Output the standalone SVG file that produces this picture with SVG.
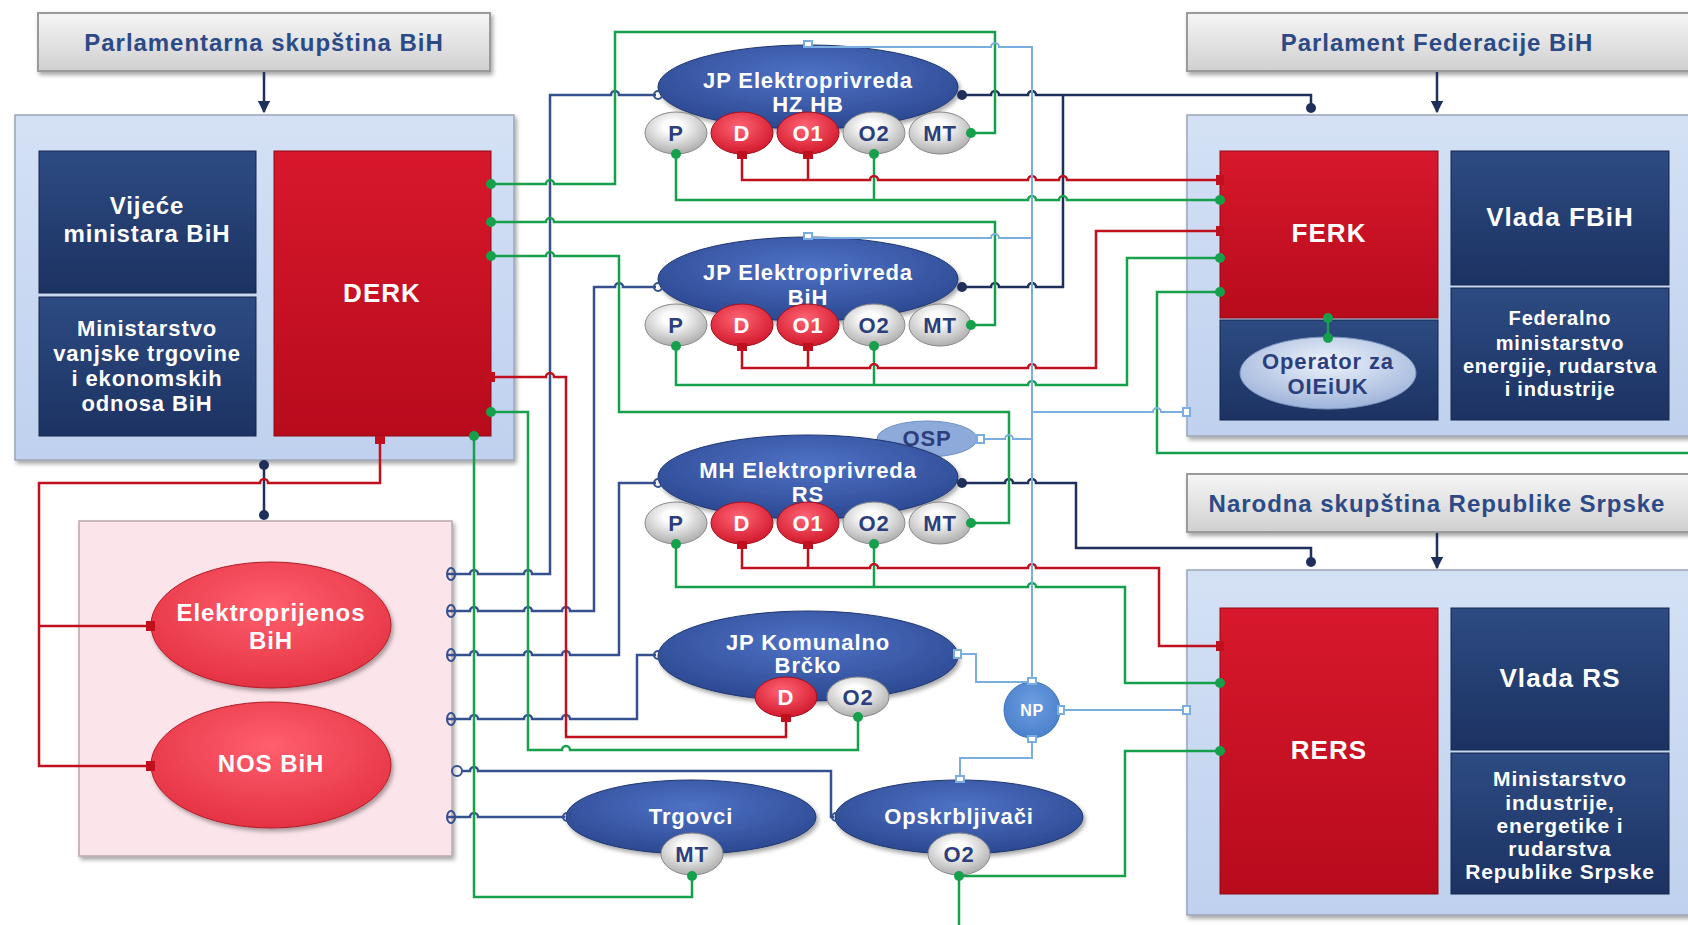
<svg xmlns="http://www.w3.org/2000/svg" width="1688" height="925" viewBox="0 0 1688 925">
<defs>
<linearGradient id="gParl" x1="0" y1="0" x2="0" y2="1"><stop offset="0" stop-color="#f6f6f6"/><stop offset="1" stop-color="#d0d0d0"/></linearGradient>
<linearGradient id="gNavy" x1="0" y1="0" x2="0" y2="1"><stop offset="0" stop-color="#2d4b82"/><stop offset="1" stop-color="#1c3262"/></linearGradient>
<linearGradient id="gRed" x1="0" y1="0" x2="0" y2="1"><stop offset="0" stop-color="#d8182c"/><stop offset="1" stop-color="#b70b1c"/></linearGradient>
<linearGradient id="gOuter" x1="0" y1="0" x2="0" y2="1"><stop offset="0" stop-color="#d4e1f5"/><stop offset="1" stop-color="#bfd1ee"/></linearGradient>
<radialGradient id="gComp" cx="0.5" cy="0.35" r="0.7"><stop offset="0" stop-color="#4f72c6"/><stop offset="1" stop-color="#29458d"/></radialGradient>
<radialGradient id="gWhite" cx="0.45" cy="0.35" r="0.7"><stop offset="0.2" stop-color="#ffffff"/><stop offset="1" stop-color="#a6a6a6"/></radialGradient>
<radialGradient id="gRedSub" cx="0.45" cy="0.35" r="0.7"><stop offset="0" stop-color="#ff6474"/><stop offset="1" stop-color="#cf1428"/></radialGradient>
<radialGradient id="gPinkEll" cx="0.5" cy="0.35" r="0.7"><stop offset="0" stop-color="#ff5f6e"/><stop offset="1" stop-color="#e22f3f"/></radialGradient>
<radialGradient id="gOper" cx="0.5" cy="0.35" r="0.7"><stop offset="0" stop-color="#eef3fb"/><stop offset="1" stop-color="#98afd8"/></radialGradient>
<radialGradient id="gNP" cx="0.5" cy="0.4" r="0.6"><stop offset="0" stop-color="#6c9ee0"/><stop offset="1" stop-color="#4a80cc"/></radialGradient>
<filter id="sh" x="-10%" y="-10%" width="120%" height="130%"><feDropShadow dx="2" dy="3" stdDeviation="2" flood-color="#000" flood-opacity="0.35"/></filter>
<marker id="arr" viewBox="0 0 10 10" refX="9" refY="5" markerWidth="5" markerHeight="5" orient="auto"><path d="M0,0 L10,5 L0,10 z" fill="#1e2f5c"/></marker>
</defs>
<style>
text{font-family:"Liberation Sans",Arial,sans-serif;font-weight:bold;text-anchor:middle;dominant-baseline:central;letter-spacing:0.04em}
.parl{fill:url(#gParl);stroke:#9a9a9a;stroke-width:2}
.pt{fill:#2c4a86;font-size:24px}
.outer{fill:url(#gOuter);stroke:#9aa6b8;stroke-width:1.5}
.navy{fill:url(#gNavy);stroke:#15264d;stroke-width:1}
.red{fill:url(#gRed);stroke:#8e0a16;stroke-width:1}
.wt{fill:#ffffff}
.comp{fill:url(#gComp);stroke:#1f3670;stroke-width:1}
.sw{fill:url(#gWhite);stroke:#8a8a8a;stroke-width:1}
.sr{fill:url(#gRedSub);stroke:#a01020;stroke-width:1}
.st{font-size:22px;fill:#2c3f7c}
.srt{font-size:22px;fill:#ffffff}
.ln{fill:none;stroke-width:2.5;stroke-linejoin:miter}
.g{stroke:#17a04c}
.r{stroke:#c0101e}
.n{stroke:#1e2f5c}
.b{stroke:#34508f}
.lb{stroke:#7aaee0;stroke-width:2}
.gd{fill:#17a04c}
.rd{fill:#c0101e}
.nd{fill:#1e2f5c}
.oc{fill:none;stroke:#34508f;stroke-width:2}
.lsq{fill:#ffffff;stroke:#7aaee0;stroke-width:2}
</style>

<!-- Nodes -->
<g id="parl-bih"><rect class="parl" x="38" y="13" width="452" height="58" filter="url(#sh)"/><text class="pt" x="264" y="42">Parlamentarna skupština BiH</text></g>
<g id="bih-state"><rect class="outer" x="15" y="115" width="499" height="345" filter="url(#sh)"/></g>
<g id="vijece"><rect class="navy" x="39" y="151" width="217" height="142"/><text class="wt" font-size="24" x="147" y="205">Vijeće</text><text class="wt" font-size="24" x="147" y="233">ministara BiH</text></g>
<g id="mvteo"><rect class="navy" x="39" y="297" width="217" height="139"/><text class="wt" font-size="22" x="147" y="328">Ministarstvo</text><text class="wt" font-size="22" x="147" y="353">vanjske trgovine</text><text class="wt" font-size="22" x="147" y="378">i ekonomskih</text><text class="wt" font-size="22" x="147" y="403">odnosa BiH</text></g>
<g id="derk"><rect class="red" x="274" y="151" width="217" height="285"/><text class="wt" font-size="26" x="382" y="293">DERK</text></g>

<g id="transmission"><rect x="79" y="521" width="373" height="335" fill="#fce5ea" stroke="#b8a8ac" stroke-width="1.5" filter="url(#sh)"/></g>
<g id="elektroprijenos"><ellipse cx="271" cy="625" rx="120" ry="63" fill="url(#gPinkEll)" stroke="#b01c2a" filter="url(#sh)"/><text class="wt" font-size="24" x="271" y="612">Elektroprijenos</text><text class="wt" font-size="24" x="271" y="640">BiH</text></g>
<g id="nos"><ellipse cx="271" cy="765" rx="120" ry="63" fill="url(#gPinkEll)" stroke="#b01c2a" filter="url(#sh)"/><text class="wt" font-size="24" x="271" y="763">NOS BiH</text></g>

<g id="ep-hzhb"><ellipse class="comp" cx="808" cy="87" rx="150" ry="42" filter="url(#sh)"/><text class="wt" font-size="22" x="808" y="80">JP Elektroprivreda</text><text class="wt" font-size="22" x="808" y="104">HZ HB</text>
<ellipse class="sw" cx="676" cy="133" rx="31" ry="21"/><text class="st" x="676" y="133">P</text>
<ellipse class="sr" cx="742" cy="133" rx="31" ry="21"/><text class="srt" x="742" y="133">D</text>
<ellipse class="sr" cx="808" cy="133" rx="31" ry="21"/><text class="srt" x="808" y="133">O1</text>
<ellipse class="sw" cx="874" cy="133" rx="31" ry="21"/><text class="st" x="874" y="133">O2</text>
<ellipse class="sw" cx="940" cy="133" rx="31" ry="21"/><text class="st" x="940" y="133">MT</text></g>

<g id="ep-bih"><ellipse class="comp" cx="808" cy="279" rx="150" ry="42" filter="url(#sh)"/><text class="wt" font-size="22" x="808" y="272">JP Elektroprivreda</text><text class="wt" font-size="22" x="808" y="297">BiH</text>
<ellipse class="sw" cx="676" cy="325" rx="31" ry="21"/><text class="st" x="676" y="325">P</text>
<ellipse class="sr" cx="742" cy="325" rx="31" ry="21"/><text class="srt" x="742" y="325">D</text>
<ellipse class="sr" cx="808" cy="325" rx="31" ry="21"/><text class="srt" x="808" y="325">O1</text>
<ellipse class="sw" cx="874" cy="325" rx="31" ry="21"/><text class="st" x="874" y="325">O2</text>
<ellipse class="sw" cx="940" cy="325" rx="31" ry="21"/><text class="st" x="940" y="325">MT</text></g>

<g id="osp"><ellipse cx="927" cy="439" rx="50" ry="18" fill="#8eaadb" stroke="#7090c4"/><text class="st" x="927" y="438">OSP</text></g>

<g id="ep-rs"><ellipse class="comp" cx="808" cy="477" rx="150" ry="42" filter="url(#sh)"/><text class="wt" font-size="22" x="808" y="470">MH Elektroprivreda</text><text class="wt" font-size="22" x="808" y="494">RS</text>
<ellipse class="sw" cx="676" cy="523" rx="31" ry="21"/><text class="st" x="676" y="523">P</text>
<ellipse class="sr" cx="742" cy="523" rx="31" ry="21"/><text class="srt" x="742" y="523">D</text>
<ellipse class="sr" cx="808" cy="523" rx="31" ry="21"/><text class="srt" x="808" y="523">O1</text>
<ellipse class="sw" cx="874" cy="523" rx="31" ry="21"/><text class="st" x="874" y="523">O2</text>
<ellipse class="sw" cx="940" cy="523" rx="31" ry="21"/><text class="st" x="940" y="523">MT</text></g>

<g id="brcko"><ellipse class="comp" cx="808" cy="656" rx="150" ry="45" filter="url(#sh)"/>
<ellipse class="sr" cx="786" cy="697" rx="31" ry="20"/><text class="srt" x="786" y="697">D</text>
<ellipse class="sw" cx="858" cy="697" rx="31" ry="20"/><text class="st" x="858" y="697">O2</text>
<text class="wt" font-size="22" x="808" y="642">JP Komunalno</text><text class="wt" font-size="22" x="808" y="665">Brčko</text></g>

<g id="np"><circle cx="1032" cy="710" r="28" fill="url(#gNP)" stroke="#3e70b8"/><text class="wt" font-size="16" x="1032" y="710">NP</text></g>

<g id="trgovci"><ellipse class="comp" cx="691" cy="817" rx="125" ry="37" filter="url(#sh)"/><text class="wt" font-size="22" x="691" y="816">Trgovci</text>
<ellipse class="sw" cx="692" cy="854" rx="31" ry="21"/><text class="st" x="692" y="854">MT</text></g>
<g id="opskrbljivaci"><ellipse class="comp" cx="959" cy="817" rx="124" ry="37" filter="url(#sh)"/><text class="wt" font-size="22" x="959" y="816">Opskrbljivači</text>
<ellipse class="sw" cx="959" cy="854" rx="31" ry="21"/><text class="st" x="959" y="854">O2</text></g>

<g id="parl-fbih"><rect class="parl" x="1187" y="13" width="520" height="58" filter="url(#sh)"/><text class="pt" x="1437" y="42">Parlament Federacije BiH</text></g>
<g id="fbih"><rect class="outer" x="1187" y="115" width="520" height="321" filter="url(#sh)"/></g>
<g id="ferk"><rect class="red" x="1220" y="151" width="218" height="167"/><text class="wt" font-size="26" x="1329" y="233">FERK</text></g>
<g id="operator"><rect class="navy" x="1220" y="320" width="218" height="100"/><ellipse cx="1328" cy="373" rx="88" ry="36" fill="url(#gOper)" stroke="#7d93bd"/><text class="st" x="1328" y="361">Operator za</text><text class="st" x="1328" y="386">OIEiUK</text></g>
<g id="vlada-fbih"><rect class="navy" x="1451" y="151" width="218" height="134"/><text class="wt" font-size="26" x="1560" y="217">Vlada FBiH</text></g>
<g id="fmerai"><rect class="navy" x="1451" y="288" width="218" height="132"/><text class="wt" font-size="20" x="1560" y="318">Federalno</text><text class="wt" font-size="20" x="1560" y="343">ministarstvo</text><text class="wt" font-size="20" x="1560" y="366">energije, rudarstva</text><text class="wt" font-size="20" x="1560" y="389">i industrije</text></g>

<g id="parl-rs"><rect class="parl" x="1187" y="474" width="520" height="58" filter="url(#sh)"/><text class="pt" x="1437" y="503">Narodna skupština Republike Srpske</text></g>
<g id="rs"><rect class="outer" x="1187" y="570" width="520" height="345" filter="url(#sh)"/></g>
<g id="rers"><rect class="red" x="1220" y="608" width="218" height="286"/><text class="wt" font-size="26" x="1329" y="750">RERS</text></g>
<g id="vlada-rs"><rect class="navy" x="1451" y="608" width="218" height="142"/><text class="wt" font-size="26" x="1560" y="678">Vlada RS</text></g>
<g id="mier-rs"><rect class="navy" x="1451" y="753" width="218" height="141"/><text class="wt" font-size="21" x="1560" y="778">Ministarstvo</text><text class="wt" font-size="21" x="1560" y="802">industrije,</text><text class="wt" font-size="21" x="1560" y="825">energetike i</text><text class="wt" font-size="21" x="1560" y="848">rudarstva</text><text class="wt" font-size="21" x="1560" y="871">Republike Srpske</text></g>

<!-- Connectors -->
<g id="connectors">
<line class="ln n" x1="264" y1="72" x2="264" y2="112" marker-end="url(#arr)"/>
<line class="ln n" x1="1437" y1="72" x2="1437" y2="112" marker-end="url(#arr)"/>
<line class="ln n" x1="1437" y1="533" x2="1437" y2="568" marker-end="url(#arr)"/>

<path class="ln n" d="M962,95 L991,95 A4,4 0 0 1 999,95 L1028,95 A4,4 0 0 1 1036,95 L1311,95 L1311,108"/>
<path class="ln n" d="M962,287 L991,287 A4,4 0 0 1 999,287 L1028,287 A4,4 0 0 1 1036,287 L1063,287 L1063,95"/>
<path class="ln n" d="M962,483 L1005,483 A4,4 0 0 1 1013,483 L1028,483 A4,4 0 0 1 1036,483 L1076,483 L1076,548 L1311,548 L1311,562"/>
<polyline class="ln n" points="264,465 264,515"/>

<path class="ln b" d="M447,574 L470,574 A4,4 0 0 1 478,574 L524,574 A4,4 0 0 1 532,574 L550,574 L550,95 L611,95 A4,4 0 0 1 619,95 L656,95"/>
<path class="ln b" d="M447,611 L470,611 A4,4 0 0 1 478,611 L524,611 A4,4 0 0 1 532,611 L562,611 A4,4 0 0 1 570,611 L594,611 L594,287 L615,287 A4,4 0 0 1 623,287 L656,287"/>
<path class="ln b" d="M447,655 L470,655 A4,4 0 0 1 478,655 L524,655 A4,4 0 0 1 532,655 L562,655 A4,4 0 0 1 570,655 L619,655 L619,483 L656,483"/>
<path class="ln b" d="M447,719 L470,719 A4,4 0 0 1 478,719 L524,719 A4,4 0 0 1 532,719 L562,719 A4,4 0 0 1 570,719 L637,719 L637,655 L656,655"/>
<path class="ln b" d="M462,771 L470,771 A4,4 0 0 1 478,771 L831,771 L831,817 L834,817"/>
<path class="ln b" d="M447,817 L470,817 A4,4 0 0 1 478,817 L565,817"/>

<path class="ln g" d="M491,184 L546,184 A4,4 0 0 1 554,184 L615,184 L615,32 L995,32 L995,133 L971,133"/>
<path class="ln g" d="M491,222 L546,222 A4,4 0 0 1 554,222 L995,222 L995,325 L971,325"/>
<path class="ln g" d="M491,256 L546,256 A4,4 0 0 1 554,256 L619,256 L619,412 L1009,412 L1009,523 L971,523"/>
<path class="ln g" d="M491,412 L528,412 L528,750 L562,750 A4,4 0 0 1 570,750 L858,750 L858,717"/>
<polyline class="ln g" points="474,436 474,897 692,897 692,876"/>
<path class="ln g" d="M676,154 L676,200 L1028,200 A4,4 0 0 1 1036,200 L1059,200 A4,4 0 0 1 1067,200 L1220,200"/>
<line class="ln g" x1="874" y1="154" x2="874" y2="200"/>
<path class="ln g" d="M676,346 L676,385 L1028,385 A4,4 0 0 1 1036,385 L1127,385 L1127,258 L1220,258"/>
<line class="ln g" x1="874" y1="346" x2="874" y2="385"/>
<path class="ln g" d="M676,544 L676,587 L1028,587 A4,4 0 0 1 1036,587 L1125,587 L1125,683 L1220,683"/>
<line class="ln g" x1="874" y1="544" x2="874" y2="587"/>
<polyline class="ln g" points="1220,292 1157,292 1157,453 1688,453"/>
<polyline class="ln g" points="959,876 1125,876 1125,751 1220,751"/>
<line class="ln g" x1="959" y1="876" x2="959" y2="925"/>
<line class="ln g" x1="1328" y1="318" x2="1328" y2="338"/>

<path class="ln r" d="M380,438 L380,483 L268,483 A4,4 0 0 0 260,483 L39,483 L39,766 L152,766"/>
<line class="ln r" x1="39" y1="626" x2="152" y2="626"/>
<path class="ln r" d="M491,377 L546,377 A4,4 0 0 1 554,377 L566,377 L566,737 L786,737 L786,717"/>
<path class="ln r" d="M742,156 L742,180 L870,180 A4,4 0 0 1 878,180 L1028,180 A4,4 0 0 1 1036,180 L1059,180 A4,4 0 0 1 1067,180 L1220,180"/>
<line class="ln r" x1="808" y1="156" x2="808" y2="180"/>
<path class="ln r" d="M742,348 L742,368 L870,368 A4,4 0 0 1 878,368 L1028,368 A4,4 0 0 1 1036,368 L1096,368 L1096,231 L1220,231"/>
<line class="ln r" x1="808" y1="348" x2="808" y2="368"/>
<path class="ln r" d="M742,546 L742,568 L870,568 A4,4 0 0 1 878,568 L1028,568 A4,4 0 0 1 1036,568 L1159,568 L1159,646 L1220,646"/>
<line class="ln r" x1="808" y1="546" x2="808" y2="568"/>

<path class="ln lb" d="M808,45 L808,47 L991,47 A4,4 0 0 1 999,47 L1032,47 L1032,682"/>
<path class="ln lb" d="M808,237 L808,238 L991,238 A4,4 0 0 1 999,238 L1032,238"/>
<path class="ln lb" d="M1032,412 L1153,412 A4,4 0 0 1 1161,412 L1187,412"/>
<path class="ln lb" d="M981,439 L1005,439 A4,4 0 0 1 1013,439 L1032,439"/>
<polyline class="ln lb" points="958,654 976,654 976,682 1032,682"/>
<line class="ln lb" x1="1062" y1="710" x2="1187" y2="710"/>
<polyline class="ln lb" points="1032,740 1032,758 960,758 960,780"/>

<!-- endpoint markers -->
<g id="dots">
<circle class="gd" cx="491" cy="184" r="5"/><circle class="gd" cx="491" cy="222" r="5"/><circle class="gd" cx="491" cy="256" r="5"/><circle class="gd" cx="491" cy="412" r="5"/><circle class="gd" cx="474" cy="436" r="5"/>
<rect class="rd" x="486" y="372" width="9" height="10"/><rect class="rd" x="375" y="436" width="10" height="8"/>
<rect class="rd" x="146" y="621" width="9" height="10"/><rect class="rd" x="146" y="761" width="9" height="10"/>
<circle class="nd" cx="264" cy="465" r="5"/><circle class="nd" cx="264" cy="515" r="5"/>
<ellipse class="oc" cx="451" cy="574" rx="4" ry="6"/><ellipse class="oc" cx="451" cy="611" rx="4" ry="6"/><ellipse class="oc" cx="451" cy="655" rx="4" ry="6"/><ellipse class="oc" cx="451" cy="719" rx="4" ry="6"/><circle class="oc" cx="457" cy="771" r="5"/><ellipse class="oc" cx="451" cy="817" rx="4" ry="6"/>
<circle class="oc" cx="658" cy="95" r="4"/><circle class="oc" cx="658" cy="287" r="4"/><circle class="oc" cx="658" cy="483" r="4"/><circle class="oc" cx="658" cy="655" r="4"/><circle class="oc" cx="567" cy="817" r="4"/><circle class="oc" cx="836" cy="817" r="4"/>
<circle class="nd" cx="962" cy="95" r="5"/><circle class="nd" cx="962" cy="287" r="5"/><circle class="nd" cx="962" cy="483" r="5"/>
<circle class="nd" cx="1311" cy="108" r="5"/><circle class="nd" cx="1311" cy="562" r="5"/>
<circle class="gd" cx="676" cy="154" r="5"/><circle class="gd" cx="874" cy="154" r="5"/><circle class="gd" cx="971" cy="133" r="5"/>
<rect class="rd" x="737" y="151" width="10" height="8"/><rect class="rd" x="803" y="151" width="10" height="8"/>
<circle class="gd" cx="676" cy="346" r="5"/><circle class="gd" cx="874" cy="346" r="5"/><circle class="gd" cx="971" cy="325" r="5"/>
<rect class="rd" x="737" y="343" width="10" height="8"/><rect class="rd" x="803" y="343" width="10" height="8"/>
<circle class="gd" cx="676" cy="544" r="5"/><circle class="gd" cx="874" cy="544" r="5"/><circle class="gd" cx="971" cy="523" r="5"/>
<rect class="rd" x="737" y="541" width="10" height="8"/><rect class="rd" x="803" y="541" width="10" height="8"/>
<rect class="rd" x="781" y="714" width="10" height="8"/><circle class="gd" cx="858" cy="717" r="5"/>
<circle class="gd" cx="692" cy="876" r="5"/><circle class="gd" cx="959" cy="876" r="5"/>
<rect class="rd" x="1216" y="175" width="8" height="10"/><rect class="rd" x="1216" y="226" width="8" height="10"/><rect class="rd" x="1216" y="641" width="8" height="10"/>
<circle class="gd" cx="1220" cy="200" r="5"/><circle class="gd" cx="1220" cy="258" r="5"/><circle class="gd" cx="1220" cy="292" r="5"/>
<circle class="gd" cx="1220" cy="683" r="5"/><circle class="gd" cx="1220" cy="751" r="5"/>
<circle class="gd" cx="1328" cy="318" r="5"/><circle class="gd" cx="1328" cy="338" r="5"/>
<rect class="lsq" x="804" y="41" width="8" height="6"/><rect class="lsq" x="804" y="233" width="8" height="6"/>
<rect class="lsq" x="977" y="435" width="7" height="8"/><rect class="lsq" x="954" y="650" width="7" height="8"/>
<rect class="lsq" x="1028" y="678" width="8" height="6"/><rect class="lsq" x="1058" y="706" width="6" height="8"/><rect class="lsq" x="1028" y="736" width="8" height="6"/>
<rect class="lsq" x="956" y="776" width="8" height="6"/>
<rect class="lsq" x="1183" y="408" width="7" height="8"/><rect class="lsq" x="1183" y="706" width="7" height="8"/>
</g>
</g>
</svg>
